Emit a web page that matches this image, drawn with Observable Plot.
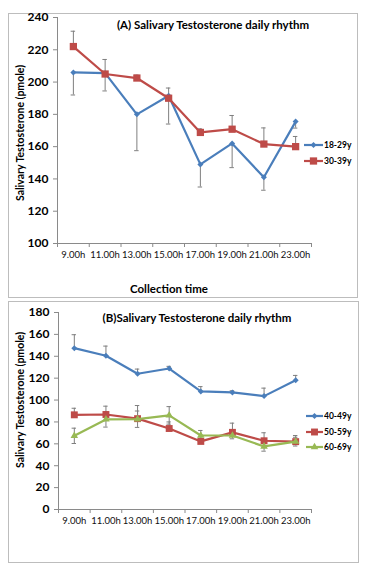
<!DOCTYPE html>
<html><head><meta charset="utf-8">
<script src="https://cdn.jsdelivr.net/npm/d3@7"></script>
<script src="https://cdn.jsdelivr.net/npm/@observablehq/plot@0.6"></script>
<style>
body{margin:0;background:#fff;font-family:Lato,"Open Sans",sans-serif;color:#000}
#wrap{position:relative;width:372px;height:572px;overflow:hidden;background:#fff}
.box{position:absolute;border:1px solid #bdbdbd;box-sizing:border-box}
.abs{position:absolute;white-space:nowrap;transform:translate(-50%,-50%);font-weight:bold}
.title{font-size:11.5px}
.ylab{font-size:10.5px;transform:translate(-50%,-50%) rotate(-90deg)}
.xlab{font-size:11.5px}
.leg{position:absolute;display:flex;align-items:center;font-weight:bold;font-size:8.5px;transform:translateY(-50%);white-space:nowrap}
.leg svg{display:block;margin-right:1px}
svg.plot{position:absolute}
</style></head>
<body>
<div id="wrap"></div>
<script>
// ---- data ----
const times = ["9.00h","11.00h","13.00h","15.00h","17.00h","19.00h","21.00h","23.00h"];
const ticksA = [100,120,140,160,180,200,220,240];
const ticksB = [0,20,40,60,80,100,120,140,160,180];

const v1829 = [206, 205.5, 180, 191.5, 149, 162, 141, 175.5];
const minus1829 = [14, 11, 22.5, 17.5, 14, 15, 8, 4];
const plus1829 = [0, 0, 0, 0, 0, 0, 0, 0];

const v3039 = [222, 205, 202.5, 190, 168.8, 170.8, 161.6, 160];
const minus3039 = [0, 0, 0, 0, 0, 0, 0, 0];
const plus3039 = [9.5, 9, 1.8, 6.3, 2.2, 8.5, 10, 6.3];

const v4049 = [147.4, 140.5, 124, 128.8, 107.9, 107, 103.6, 118];
const minus4049 = [0, 0, 0, 0, 0, 0, 0, 0];
const plus4049 = [12.3, 8.8, 4.3, 2, 4.4, 1.5, 7.3, 4.5];

const v5059 = [86.5, 86.8, 83, 74, 62.2, 70.5, 62.8, 62];
const minus5059 = [0, 0, 0, 0, 0, 0, 0, 0];
const plus5059 = [6, 7.6, 12, 6, 3, 8.4, 7.3, 5.6];

const v6069 = [67.3, 82.3, 82.5, 86, 67.6, 67.6, 57.6, 62];
const err6069 = [7, 7, 7.5, 8, 4.6, 3, 4.3, 4];

const blue = "#4a7ebb", red = "#be4b48", green = "#98b954";
const ebColor = "#7f7f7f", axisColor = "#8a8a8a";
const sqr = d3.symbolSquare, dia = d3.symbolDiamond2 || d3.symbolDiamond, tri = d3.symbolTriangle;

const seriesA = [
  {name:"18-29y", values:v1829, minus:minus1829, plus:plus1829, color:blue, symbol:dia, r:2.7},
  {name:"30-39y", values:v3039, minus:minus3039, plus:plus3039, color:red, symbol:sqr, r:4.1}
];
const seriesB = [
  {name:"40-49y", values:v4049, minus:minus4049, plus:plus4049, color:blue, symbol:dia, r:2.7},
  {name:"50-59y", values:v5059, minus:minus5059, plus:plus5059, color:red, symbol:sqr, r:3.9},
  {name:"60-69y", values:v6069, minus:err6069, plus:err6069, color:green, symbol:tri, r:2.8}
];

function panel(series, yDomain, yTicks, w, h, m) {
  const rows = series.flatMap(s => s.values.map((v,i) => ({name:s.name, i, x:i+0.5, v, lo:v - s.minus[i], hi:v + s.plus[i]})));
  const cap = 0.07;
  const marks = [
    Plot.ruleX([0], {stroke:axisColor}),
    Plot.ruleY([yDomain[0]], {stroke:axisColor}),
    Plot.axisY({ticks:yTicks, tickSize:4, tickPadding:5, stroke:axisColor, fill:"#000", fontWeight:"bold", fontSize:12, label:null}),
    Plot.axisX({ticks:d3.range(9), tickSize:4, tickFormat:() => "", stroke:axisColor, label:null}),
    Plot.axisX({ticks:d3.range(8).map(i => i + 0.5), tickSize:0, tickPadding:8, tickFormat:v => times[Math.floor(v)], fontSize:9.5, fill:"#111", label:null}),
    Plot.ruleX(rows.filter(d => d.hi > d.lo), {x:"x", y1:"lo", y2:"hi", stroke:ebColor, strokeWidth:1}),
    Plot.ruleY(rows.filter(d => d.hi > d.v), {y:"hi", x1:d => d.x - cap, x2:d => d.x + cap, stroke:ebColor}),
    Plot.ruleY(rows.filter(d => d.lo < d.v), {y:"lo", x1:d => d.x - cap, x2:d => d.x + cap, stroke:ebColor})
  ];
  for (const s of series) {
    const rs = rows.filter(d => d.name === s.name);
    marks.push(Plot.line(rs, {x:"x", y:"v", stroke:s.color, strokeWidth:2.2}));
    marks.push(Plot.dot(rs, {x:"x", y:"v", symbol:s.symbol, r:s.r, fill:s.color, stroke:"none"}));
  }
  return Plot.plot({
    width:w, height:h, marginLeft:m[0], marginRight:m[1], marginTop:m[2], marginBottom:m[3],
    className:"plot",
    x:{domain:[0,8]}, y:{domain:yDomain},
    style:{fontFamily:"Lato, 'Open Sans', sans-serif", fontSize:"9px", color:"#000", background:"transparent", overflow:"visible"},
    marks
  });
}

const wrap = document.getElementById("wrap");
function box(l,t,w,h){ const d=document.createElement("div"); d.className="box"; Object.assign(d.style,{left:l+"px",top:t+"px",width:w+"px",height:h+"px"}); wrap.appendChild(d); }
function text(cls, str, x, y){ const d=document.createElement("div"); d.className="abs "+cls; d.textContent=str; d.style.left=x+"px"; d.style.top=y+"px"; wrap.appendChild(d); }
function place(svg, l, t){ svg.style.left=l+"px"; svg.style.top=t+"px"; wrap.appendChild(svg); }
function legend(s, x, y, lw){
  const d=document.createElement("div"); d.className="leg"; d.style.left=x+"px"; d.style.top=y+"px";
  const ns="http://www.w3.org/2000/svg";
  const sv=document.createElementNS(ns,"svg"); sv.setAttribute("width",lw); sv.setAttribute("height",10);
  const ln=document.createElementNS(ns,"line"); ln.setAttribute("x1",0); ln.setAttribute("x2",lw); ln.setAttribute("y1",5); ln.setAttribute("y2",5);
  ln.setAttribute("stroke",s.color); ln.setAttribute("stroke-width",2.2); sv.appendChild(ln);
  const p=document.createElementNS(ns,"path"); p.setAttribute("d", d3.symbol(s.symbol, Math.PI*s.r*s.r)()); p.setAttribute("transform",`translate(${lw/2},5)`); p.setAttribute("fill",s.color); sv.appendChild(p);
  d.appendChild(sv); const sp=document.createElement("span"); sp.textContent=s.name; d.appendChild(sp); wrap.appendChild(d);
}

// Panel A
box(8,13,350,285);
place(panel(seriesA, [100,240], ticksA, 349, 284, [49,46,4,54]), 8, 13);
text("title","(A) Salivary Testosterone daily rhythm",213,24);
text("ylab","Salivary Testosterone (pmole)",20,133);
text("xlab","Collection time",169,288);
legend(seriesA[0],304,145,19);
legend(seriesA[1],304,161,19);

// Panel B
box(8,301,351,262);
place(panel(seriesB, [0,180], ticksB, 351, 262, [50,48,11,54]), 8, 301);
text("title","(B)Salivary Testosterone daily rhythm",197,317);
text("ylab","Salivary Testosterone (pmole)",20,400);
legend(seriesB[0],306,416,17);
legend(seriesB[1],306,432,17);
legend(seriesB[2],306,447,17);
</script>
</body></html>
